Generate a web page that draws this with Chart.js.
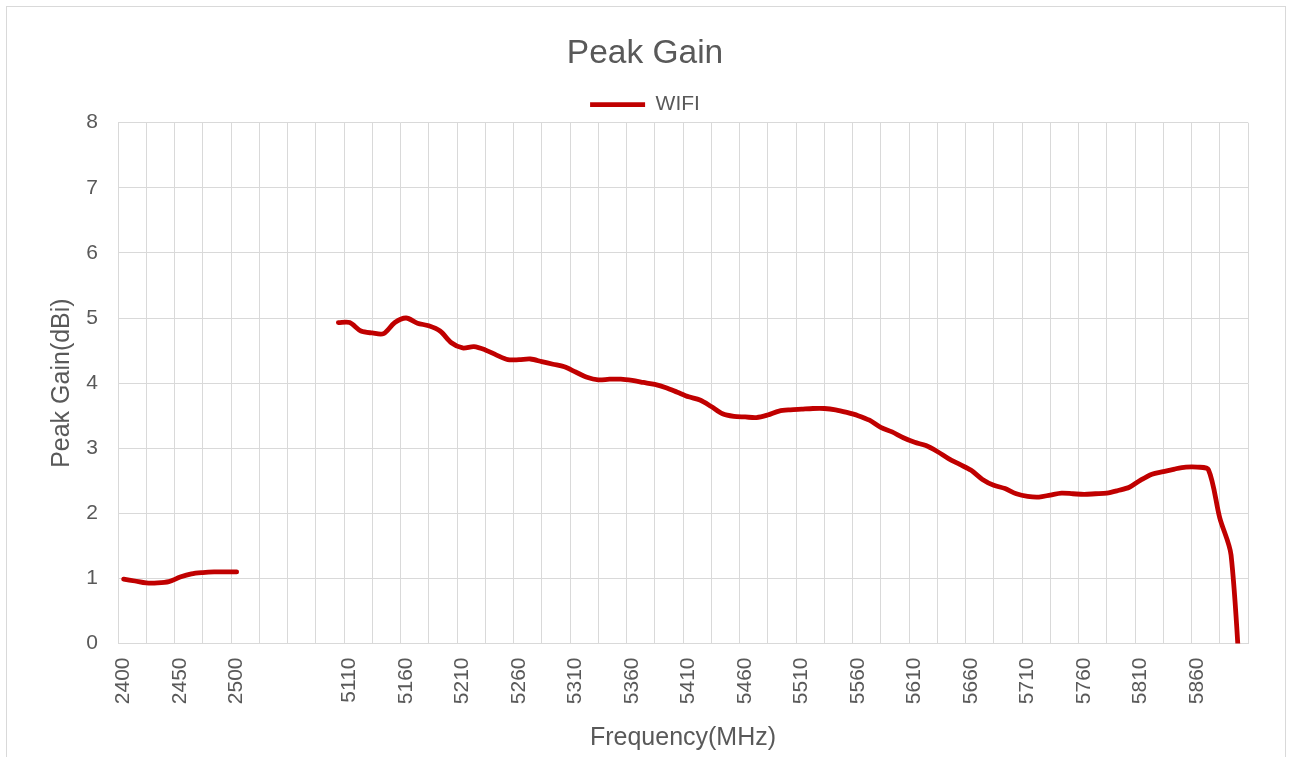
<!DOCTYPE html>
<html>
<head>
<meta charset="utf-8">
<title>Peak Gain</title>
<script src="https://cdn.jsdelivr.net/npm/chart.js@4.4.1/dist/chart.umd.min.js"></script>
<style>
  html, body { margin: 0; padding: 0; background: #fff; overflow: hidden; }
  #frame { position: absolute; left: 6px; top: 6px; width: 1278px; height: 800px; border: 1px solid #d9d9d9; }
  #wrap { position: absolute; left: 0; top: 0; width: 1290px; height: 757px; }
</style>
</head>
<body>
<div id="frame"></div>
<div id="wrap"><canvas id="gainChart" width="1290" height="757"></canvas></div>
<script>
// frequency bands (MHz), 10 MHz steps
const band24 = [2400, 2410, 2420, 2430, 2440, 2450, 2460, 2470, 2480, 2490, 2500];
const band5Start = 5100, band5End = 5900;
const gapSlots = 8; // empty categories between the two bands

// Peak gain (dBi)
const gain24 = [0.99, 0.96, 0.93, 0.93, 0.95, 1.02, 1.07, 1.09, 1.10, 1.10, 1.10];
const gain5 = [
  4.93, 4.93, 4.80, 4.77, 4.76, 4.93, 5.00, 4.92, 4.88, 4.80,
  4.62, 4.54, 4.56, 4.51, 4.43, 4.36, 4.36, 4.37, 4.33, 4.29,
  4.25, 4.17, 4.09, 4.05, 4.06, 4.06, 4.04, 4.01, 3.98, 3.93,
  3.86, 3.79, 3.74, 3.64, 3.53, 3.49, 3.48, 3.47, 3.51, 3.57,
  3.59, 3.60, 3.61, 3.61, 3.59, 3.55, 3.50, 3.43, 3.32, 3.25,
  3.16, 3.09, 3.04, 2.95, 2.84, 2.75, 2.66, 2.52, 2.43, 2.38,
  2.30, 2.26, 2.25, 2.28, 2.31, 2.30, 2.29, 2.30, 2.31, 2.35,
  2.40, 2.51, 2.60, 2.64, 2.68, 2.71, 2.71, 2.67, 1.93, 1.36,
  -1.2
];
const yTicks = [0, 1, 2, 3, 4, 5, 6, 7, 8];

// build category list + matching series
const band5 = [];
for (let f = band5Start; f <= band5End; f += 10) band5.push(f);
const labels = [...band24.map(String), ...Array(gapSlots).fill(''), ...band5.map(String)];
const gain = [...gain24, ...Array(gapSlots).fill(null), ...gain5];

const textColor = '#595959';
const gridColor = '#d9d9d9';
const fontFamily = '"Liberation Sans", Arial, sans-serif';

Chart.defaults.font.family = fontFamily;
Chart.defaults.color = textColor;

// pull the plot area up a little under the legend
const legendTrim = {
  id: 'legendTrim',
  beforeInit(chart) {
    const lg = chart.legend;
    if (!lg) return;
    const fit = lg.fit;
    lg.fit = function () {
      fit.call(this);
      this.height -= 2.5;
    };
  }
};

const ctx = document.getElementById('gainChart').getContext('2d');
new Chart(ctx, {
  type: 'line',
  data: {
    labels: labels,
    datasets: [{
      label: 'WIFI',
      data: gain,
      xAxisID: 'x',
      yAxisID: 'y',
      borderColor: '#C00000',
      backgroundColor: '#C00000',
      borderWidth: 4.8,
      borderCapStyle: 'round',
      borderJoinStyle: 'round',
      pointRadius: 0,
      pointHoverRadius: 0,
      tension: 0.3,
      spanGaps: false
    }]
  },
  plugins: [legendTrim],
  options: {
    responsive: false,
    animation: false,
    events: [],
    layout: { padding: { left: 0, right: 0, top: 30, bottom: 0 } },
    plugins: {
      title: {
        display: true,
        text: 'Peak Gain',
        color: textColor,
        font: { size: 33.5, weight: 'normal' },
        padding: { top: 4, bottom: 12 }
      },
      legend: {
        position: 'top',
        labels: {
          usePointStyle: true,
          pointStyle: 'line',
          pointStyleWidth: 55,
          color: textColor,
          font: { size: 21 },
          padding: 8
        }
      },
      tooltip: { enabled: false }
    },
    scales: {
      x: {
        type: 'category',
        position: 'bottom',
        offset: true,
        grid: { display: false, drawTicks: false },
        border: { display: true, color: gridColor, width: 1 },
        ticks: {
          autoSkip: false,
          minRotation: 90,
          maxRotation: 90,
          padding: 14,
          color: textColor,
          font: { size: 21 },
          callback: function (val, i) { return i % 5 === 0 ? labels[i] : ''; }
        },
        title: {
          display: true,
          text: 'Frequency(MHz)',
          color: textColor,
          font: { size: 25 },
          padding: { top: 0, bottom: 4 }
        },
        afterFit: function (scale) { scale.height = 113.5; }
      },
      // gridline-only axis: a vertical line every 2.5 categories
      xgrid: {
        type: 'linear',
        position: 'bottom',
        min: 0,
        max: 40,
        grid: { color: gridColor, drawTicks: false },
        border: { display: false },
        ticks: { display: false, stepSize: 1, maxTicksLimit: 60 }
      },
      y: {
        type: 'linear',
        min: yTicks[0],
        max: yTicks[yTicks.length - 1],
        grid: { color: gridColor, drawTicks: false },
        border: { display: false },
        ticks: {
          stepSize: 1,
          padding: 20,
          color: textColor,
          font: { size: 21 }
        },
        title: {
          display: true,
          text: 'Peak Gain(dBi)',
          color: textColor,
          font: { size: 25 },
          padding: { top: 47, bottom: 0 }
        },
        afterFit: function (scale) { scale.width = 118; }
      },
      // empty right-side box so title and legend centre on the whole canvas
      yright: {
        type: 'linear',
        position: 'right',
        min: 0,
        max: 1,
        grid: { display: false, drawTicks: false },
        border: { display: false },
        ticks: { display: false },
        afterFit: function (scale) { scale.width = 42; }
      }
    }
  }
});
</script>
</body>
</html>
